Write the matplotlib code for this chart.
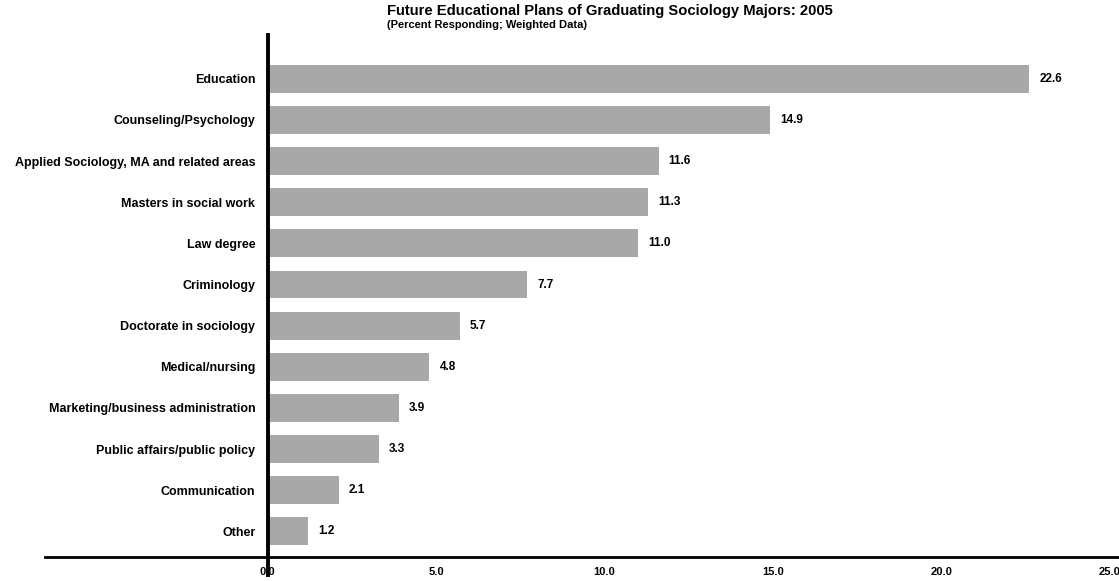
import matplotlib
matplotlib.use("Agg")
import matplotlib.pyplot as plt
import numpy as np

plt.rcParams["font.family"] = ["Liberation Sans", "DejaVu Sans"]

# ── Data ──────────────────────────────────────────────────────────────────────
categories = [
    "Education",
    "Counseling/Psychology",
    "Applied Sociology, MA and related areas",
    "Masters in social work",
    "Law degree",
    "Criminology",
    "Doctorate in sociology",
    "Medical/nursing",
    "Marketing/business administration",
    "Public affairs/public policy",
    "Communication",
    "Other",
]
percents = [22.6, 14.9, 11.6, 11.3, 11.0, 7.7, 5.7, 4.8, 3.9, 3.3, 2.1, 1.2]
xticks = [0, 5, 10, 15, 20, 25]

# ── Plot ──────────────────────────────────────────────────────────────────────
fig = plt.figure(figsize=(11.19, 5.81), dpi=100)
ax = fig.add_axes([0.040, 0.041, 0.960, 0.899])

ypos = np.arange(len(categories))[::-1]
ax.barh(ypos, percents, height=0.68, color="#a8a8a8", edgecolor="none")

for y, v in zip(ypos, percents):
    ax.text(v + 0.3, y, f"{v:.1f}", va="center", ha="left",
            fontsize=8.5, fontweight="bold")

ax.set_xlim(-6.62, 25.27)
ax.set_ylim(-0.63, len(categories) + 0.07)

ax.spines["left"].set_position(("data", 0))
ax.spines["left"].set_linewidth(2.8)
ax.spines["bottom"].set_linewidth(2.0)
ax.spines["top"].set_visible(False)
ax.spines["right"].set_visible(False)
ax.axvline(0, ymin=-0.035, ymax=0, color="black", lw=2.8, clip_on=False)

ax.set_yticks(ypos)
ax.set_yticklabels(categories, fontsize=9, fontweight="bold")
ax.tick_params(axis="y", length=0, pad=9)

ax.set_xticks(xticks)
ax.set_xticklabels([f"{t:.1f}" for t in xticks], fontsize=8, fontweight="bold")
ax.tick_params(axis="x", length=0, pad=7)

fig.text(0.346, 0.993, "Future Educational Plans of Graduating Sociology Majors: 2005",
         ha="left", va="top", fontsize=10.6, fontweight="bold")
fig.text(0.346, 0.965, "(Percent Responding; Weighted Data)",
         ha="left", va="top", fontsize=8, fontweight="bold")

fig.savefig("out.png", dpi=100)
